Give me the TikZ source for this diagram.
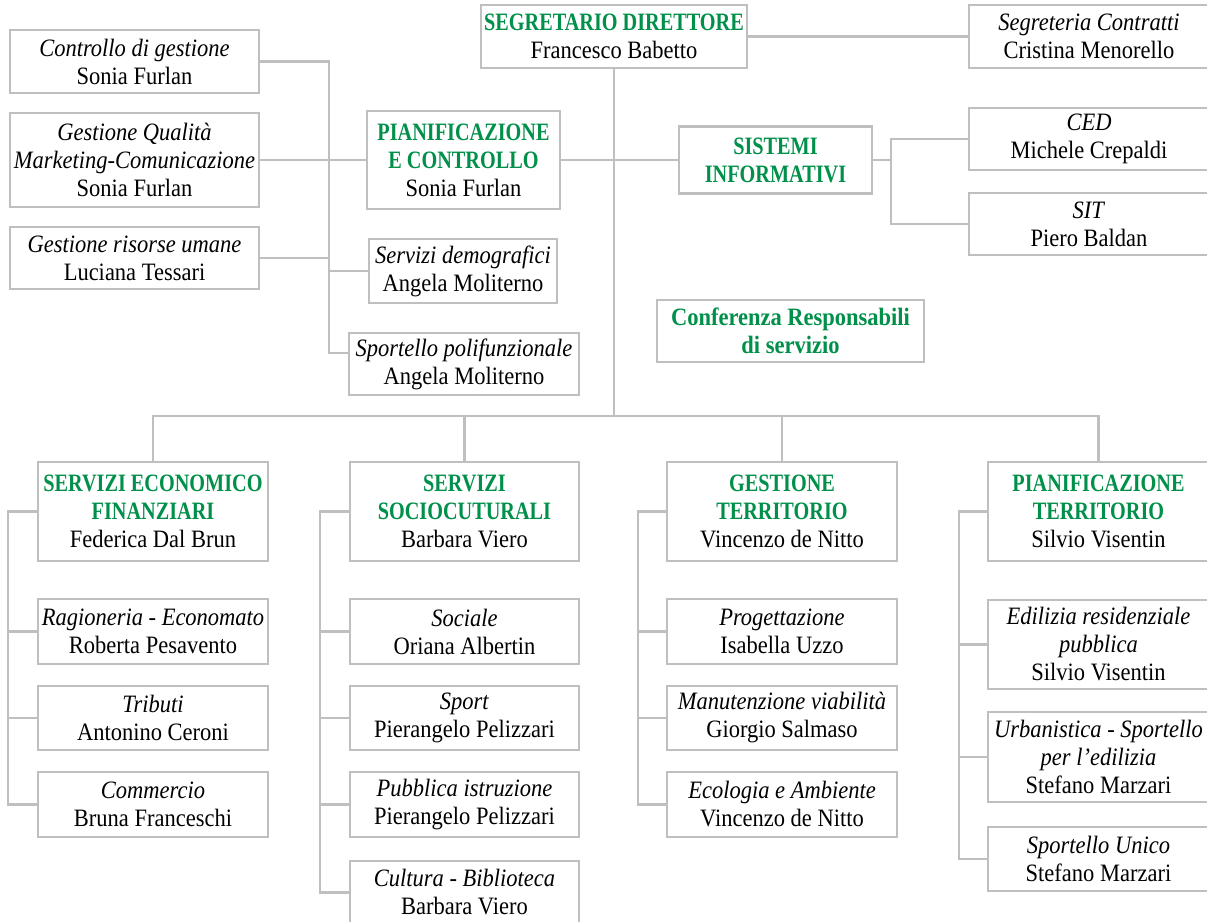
\documentclass[tikz,border=0pt]{standalone}
\usepackage{fontspec}
\setmainfont{Liberation Serif}[FakeStretch=0.9]
\newfontface\headfont[FakeStretch=0.81]{Liberation Serif Bold}
\usepackage{xcolor}
\usepackage{tikz}
\usetikzlibrary{positioning,calc}
\definecolor{orgGreen}{HTML}{00904A}
\definecolor{orgGrey}{HTML}{BFBFBF}
\newcommand{\hd}[1]{{\headfont\color{orgGreen}#1}}

\begin{document}
\begin{tikzpicture}[x=0.5pt,y=-0.5pt,
    unit/.style={draw=orgGrey, line width=1.1pt, fill=white, align=center, inner sep=0pt,
                 font=\fontsize{12.5}{14}\selectfont},
    wh/.style 2 args={minimum width=#1*0.5pt, minimum height=#2*0.5pt},
    link/.style={draw=orgGrey, line width=1.1pt}]
  \useasboundingbox (0,0) rectangle (1207,922);

  \node[unit, wh={266}{63}] (seg) at (614,36.5) {\hd{SEGRETARIO DIRETTORE}\\Francesco Babetto};
  \node[unit, wh={240}{63}] (segc) at (1089,36.5) {\textit{Segreteria Contratti}\\Cristina Menorello};
  \node[unit, wh={249}{63}] (ctrl) at (134.5,61.5) {\textit{Controllo di gestione}\\Sonia Furlan};
  \node[unit, wh={249}{94}] (qual) at (134.5,160) {\textit{Gestione Qualità}\\\textit{Marketing-Comunicazione}\\Sonia Furlan};
  \node[unit, wh={249}{62}] (hr) at (134.5,258) {\textit{Gestione risorse umane}\\Luciana Tessari};
  \node[unit, wh={193}{98}] (pc) at (463.5,160) {\hd{PIANIFICAZIONE}\\\hd{E CONTROLLO}\\Sonia Furlan};
  \node[unit, wh={188}{64}] (demo) at (463,271) {\textit{Servizi demografici}\\Angela Moliterno};
  \node[unit, wh={230}{62}] (poli) at (464,364) {\textit{Sportello polifunzionale}\\Angela Moliterno};
  \node[unit, wh={193}{67}] (si) at (775.5,160) {\hd{SISTEMI}\\\hd{INFORMATIVI}};
  \node[unit, wh={240}{62}] (ced) at (1089,139) {\textit{CED}\\Michele Crepaldi};
  \node[unit, wh={240}{62}] (sit) at (1089,224) {\textit{SIT}\\Piero Baldan};
  \node[unit, wh={267}{62}, text=orgGreen, font=\fontsize{12.5}{14}\selectfont\bfseries] (conf) at (790.5,331) {Conferenza Responsabili\\di servizio};

  \node[unit, wh={230}{99}] (sef) at (153,511.5) {\hd{SERVIZI ECONOMICO}\\\hd{FINANZIARI}\\Federica Dal Brun};
  \node[unit, wh={230}{65}] (rag) at (153,631.5) {\textit{Ragioneria - Economato}\\Roberta Pesavento};
  \node[unit, wh={230}{64}] (trib) at (153,718) {\textit{Tributi}\\Antonino Ceroni};
  \node[unit, wh={230}{65}] (comm) at (153,804.5) {\textit{Commercio}\\Bruna Franceschi};

  \node[unit, wh={229}{99}] (ss) at (464.5,511.5) {\hd{SERVIZI}\\\hd{SOCIOCUTURALI}\\Barbara Viero};
  \node[unit, wh={229}{65}] (soc) at (464.5,631.5) {\textit{Sociale}\\Oriana Albertin};
  \node[unit, wh={229}{64}] (spo) at (464.5,718) {\textit{Sport}\\Pierangelo Pelizzari};
  \node[unit, wh={229}{65}] (pub) at (464.5,804.5) {\textit{Pubblica istruzione}\\Pierangelo Pelizzari};
  \node[unit, wh={229}{63}] (cult) at (464.5,892.5) {\textit{Cultura - Biblioteca}\\Barbara Viero};

  \node[unit, wh={230}{99}] (gt) at (782,511.5) {\hd{GESTIONE}\\\hd{TERRITORIO}\\Vincenzo de Nitto};
  \node[unit, wh={230}{65}] (prog) at (782,631.5) {\textit{Progettazione}\\Isabella Uzzo};
  \node[unit, wh={230}{64}] (man) at (782,718) {\textit{Manutenzione viabilità}\\Giorgio Salmaso};
  \node[unit, wh={230}{65}] (eco) at (782,804.5) {\textit{Ecologia e Ambiente}\\Vincenzo de Nitto};

  \node[unit, wh={221}{99}] (pt) at (1098.5,511.5) {\hd{PIANIFICAZIONE}\\\hd{TERRITORIO}\\Silvio Visentin};
  \node[unit, wh={221}{89}] (edi) at (1098.5,644.5) {\textit{Edilizia residenziale}\\\textit{pubblica}\\Silvio Visentin};
  \node[unit, wh={221}{90}] (urb) at (1098.5,757) {\textit{Urbanistica - Sportello}\\\textit{per l’edilizia}\\Stefano Marzari};
  \node[unit, wh={221}{64}] (su) at (1098.5,859) {\textit{Sportello Unico}\\Stefano Marzari};

  \coordinate (bus) at (614,416);
  \coordinate (lv) at (329,0);
  \coordinate (polin) at ([yshift=5.5pt]poli.west);
  \draw[link] (seg.south) -- (bus);
  \draw[link] (seg.east) -- (segc.west);
  \draw[link] (ctrl.east) -| (polin -| lv) -- (polin);
  \draw[link] (qual.east) -- (pc.west);
  \draw[link] (hr.east) -- (hr.east -| lv);
  \draw[link] (demo.west) -- (demo.west -| lv);
  \draw[link] (pc.east) -- (si.west);
  \draw[link] (si.east) -- ++(18,0) coordinate (six);
  \draw[link] (ced.west) -| (six) |- (sit.west);

  \draw[link] (sef.north) |- (bus) -| (pt.north);
  \draw[link] (ss.north) -- (ss.north |- bus);
  \draw[link] (gt.north) -- (gt.north |- bus);

  \draw[link] (sef.west) -- ++(-29,0) coordinate (sefx) |- (comm.west);
  \foreach \n in {rag,trib} \draw[link] (\n.west) -- (\n.west -| sefx);
  \draw[link] (ss.west) -- ++(-29,0) coordinate (ssx) |- (cult.west);
  \foreach \n in {soc,spo,pub} \draw[link] (\n.west) -- (\n.west -| ssx);
  \draw[link] (gt.west) -- ++(-28,0) coordinate (gtx) |- (eco.west);
  \foreach \n in {prog,man} \draw[link] (\n.west) -- (\n.west -| gtx);
  \draw[link] (pt.west) -- ++(-28,0) coordinate (ptx) |- (su.west);
  \foreach \n in {edi,urb} \draw[link] (\n.west) -- (\n.west -| ptx);
\end{tikzpicture}
\end{document}
